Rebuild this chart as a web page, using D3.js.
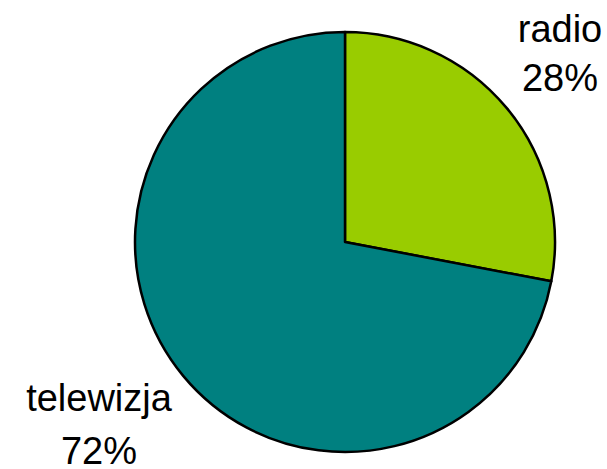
<!DOCTYPE html>
<html>
<head>
<meta charset="utf-8">
<script src="https://cdn.jsdelivr.net/npm/d3@7"></script>
<style>
  html, body { margin: 0; padding: 0; background: #fff; }
  svg { display: block; }
  text { font-family: "Liberation Sans", Arial, sans-serif; font-size: 38px; fill: #000; }
</style>
</head>
<body>
<svg id="chart" width="607" height="469"></svg>
<script>
const categories = ["radio", "telewizja"];
const shares = [28, 72];
const colors = ["#99CC00", "#008080"];

const svg = d3.select("#chart");
const cx = 345, cy = 242, radius = 210;

const pie = d3.pie().sort(null).value(d => d.value);
const arcs = pie(categories.map((c, i) => ({ name: c, value: shares[i] })));
const arc = d3.arc().innerRadius(0).outerRadius(radius);

const g = svg.append("g").attr("transform", `translate(${cx},${cy})`);
g.selectAll("path")
  .data(arcs)
  .enter().append("path")
  .attr("d", arc)
  .attr("fill", (d, i) => colors[i])
  .attr("stroke", "#000")
  .attr("stroke-width", 2.5)
  .attr("stroke-linejoin", "round");

// label anchors (name line baseline), placed outside the pie
const labelPos = [
  { x: 560, y: 42, gap: 49 },
  { x: 99, y: 411, gap: 53 }
];

const labels = svg.selectAll("g.label")
  .data(arcs)
  .enter().append("g")
  .attr("class", "label")
  .attr("transform", (d, i) => `translate(${labelPos[i].x},${labelPos[i].y})`);

labels.append("text")
  .attr("text-anchor", "middle")
  .text(d => d.data.name);
labels.append("text")
  .attr("text-anchor", "middle")
  .attr("y", (d, i) => labelPos[i].gap)
  .text(d => d.data.value + "%");
</script>
</body>
</html>
